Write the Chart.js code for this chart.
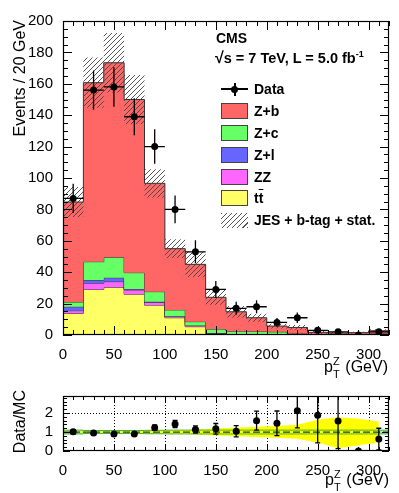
<!DOCTYPE html>
<html>
<head>
<meta charset="utf-8">
<script src="https://cdn.jsdelivr.net/npm/chart.js@4.4.1/dist/chart.umd.min.js"></script>
<style>
  body { margin: 0; background: #fff; }
  #wrap { position: relative; width: 399px; height: 493px; overflow: hidden; font-family: "Liberation Sans", Arial, sans-serif; color: #000; }
  canvas { position: absolute; left: 0; }
  .txt { position: absolute; white-space: nowrap; }
  .ytitle { position: absolute; width: 200px; height: 18px; text-align: right; font-size: 16px; line-height: 18px; transform: rotate(-90deg); transform-origin: 0 0; white-space: nowrap; }
  .xtitle { position: absolute; font-size: 16px; line-height: 18px; white-space: nowrap; }
  .ss { display: inline-block; position: relative; width: 8px; height: 1px; }
  .ss .sup { position: absolute; left: 0; bottom: 5px; font-size: 11px; line-height: 11px; }
  .ss .sub { position: absolute; left: 0; top: -2px; font-size: 11px; line-height: 11px; }
  .box { position: absolute; left: 221px; width: 25px; height: 14px; border: 1px solid #444; }
  .legtxt { position: absolute; left: 254px; font-weight: bold; font-size: 14px; line-height: 16px; white-space: nowrap; }
</style>
</head>
<body>
<div id="wrap">
  <canvas id="mainChart" style="top:0" width="399" height="385"></canvas>
  <canvas id="ratioChart" style="top:385px" width="399" height="108"></canvas>

  <div class="txt" style="left:216px; top:30px; font-weight:bold; font-size:14px; line-height:16px;">CMS</div>
  <div class="txt" style="left:215px; top:50px; font-weight:bold; font-size:14.5px; line-height:16px;"><span style="font-size:16px;">&radic;</span>s = 7 TeV, L = 5.0 fb<sup style="font-size:9px; line-height:0;">-1</sup></div>

  <!-- legend -->
  <div style="position:absolute; left:221px; top:88px; width:27px; height:1.5px; background:#000;"></div>
  <div style="position:absolute; left:234px; top:83px; width:1.5px; height:13px; background:#000;"></div>
  <div style="position:absolute; left:231px; top:85.5px; width:7px; height:7px; border-radius:50%; background:#000;"></div>
  <div class="legtxt" style="top:81px;">Data</div>

  <div class="box" style="top:103px; background:#ff6666;"></div>
  <div class="legtxt" style="top:103px;">Z+b</div>
  <div class="box" style="top:125px; background:#66ff66;"></div>
  <div class="legtxt" style="top:125px;">Z+c</div>
  <div class="box" style="top:147px; background:#6666ff;"></div>
  <div class="legtxt" style="top:147px;">Z+l</div>
  <div class="box" style="top:168.5px; background:#ff66ff;"></div>
  <div class="legtxt" style="top:168.5px;">ZZ</div>
  <div class="box" style="top:190px; background:#ffff66;"></div>
  <div class="legtxt" style="top:190px;">t<span style="text-decoration:overline;">t</span></div>
  <div style="position:absolute; left:221px; top:213px; width:27px; height:15px; background:repeating-linear-gradient(135deg, #555 0 1px, #fff 1px 3.6px);"></div>
  <div class="legtxt" style="top:212px;">JES + b-tag + stat.</div>

  <!-- axis titles -->
  <div class="ytitle" style="left:11px; top:220px;">Events / 20 GeV</div>
  <div class="ytitle" style="left:11px; top:590px;">Data/MC</div>
  <div class="xtitle" style="right:11px; top:358px;">p<span class="ss"><span class="sup">Z</span><span class="sub">T</span></span> (GeV)</div>
  <div class="xtitle" style="right:10px; top:471px;">p<span class="ss"><span class="sup">Z</span><span class="sub">T</span></span> (GeV)</div>
</div>

<script>
// binning in pT(Z), GeV
const binEdges = [0, 20, 40, 60, 80, 100, 120, 140, 160, 180, 200, 220, 240, 260, 280, 300, 320];
const binCentres = [10, 30, 50, 70, 90, 110, 130, 150, 170, 190, 210, 230, 250, 270, 290, 310];

// simulated components, events / 20 GeV
const ttbar = [13.8, 29.0, 30.4, 26.0, 19.0, 11.0, 5.3, 1.0, 0.5, 0.3, 0.2, 0.1, 0.0, 0.0, 0.0, 0.0];
const zz    = [1.7, 4.0, 3.6, 2.7, 1.8, 0.7, 0.6, 0.2, 0.1, 0.1, 0.1, 0.1, 0.1, 0.0, 0.0, 0.0];
const zl    = [2.5, 2.0, 2.5, 0.6, 0.4, 0.3, 0.2, 0.1, 0.1, 0.1, 0.05, 0.05, 0.05, 0.05, 0.05, 0.1];
const zc    = [3.0, 11.7, 13.0, 10.4, 6.4, 4.0, 2.4, 2.5, 1.7, 1.7, 1.65, 0.75, 0.35, 0.35, 0.25, 0.9];
const zb    = [63.7, 114.0, 123.9, 110.3, 69.0, 39.0, 36.5, 20.2, 12.4, 8.8, 3.7, 3.8, 1.2, 0.9, 1.2, 1.7];
const mcUnc = [9.5, 16, 19, 15.6, 9, 6, 8, 4.7, 3.7, 2.5, 1.5, 1.5, 1.2, 0.8, 0.6, 1.0];

// data
const dataCounts = [87, 156, 158, 139, 120, 80, 53, 29, 17, 18, 8, 11, 3, 2, 0, 2];
const dataErr    = [9.3, 12.5, 12.6, 11.8, 11.0, 8.9, 7.3, 5.4, 4.1, 4.2, 2.8, 3.3, 1.7, 1.4, 0, 1.4];

// ratio pad
const ratio    = [1.02, 0.95, 0.89, 0.90, 1.23, 1.43, 1.14, 1.17, 1.04, 1.60, 1.46, 2.12, 1.89, 1.58, 0, 0.63];
const ratioErr = [0.11, 0.07, 0.07, 0.08, 0.14, 0.19, 0.19, 0.28, 0.30, 0.50, 0.65, 0.90, 1.46, 1.46, 0, 0.57];
const bandX  = [0, 10, 30, 50, 70, 90, 110, 130, 150, 170, 190, 210, 230, 250, 270, 290, 310];
const bandHi = [1.04, 1.04, 1.04, 1.04, 1.05, 1.06, 1.09, 1.13, 1.18, 1.24, 1.28, 1.32, 1.38, 1.65, 1.78, 1.70, 1.55];
const bandLo = [0.96, 0.96, 0.96, 0.96, 0.95, 0.94, 0.91, 0.87, 0.82, 0.78, 0.74, 0.70, 0.65, 0.45, 0.15, 0.30, 0.45];
const statHalf = [0.10, 0.08, 0.08, 0.08, 0.09, 0.10, 0.10, 0.10, 0.10, 0.10, 0.10, 0.10, 0.10, 0.10, 0.10, 0.10];

// tick labels
const xTicks = [0, 50, 100, 150, 200, 250, 300];
const yTicks = [0, 20, 40, 60, 80, 100, 120, 140, 160, 180, 200];
const ratioTicks = [0, 1, 2];

const FONT = "'Liberation Sans', Arial, sans-serif";

// step points over the bin edges (last value repeated at the closing edge)
function stepPoints(values) {
  return binEdges.map((x, i) => ({ x: x, y: values[Math.min(i, values.length - 1)] }));
}

function hatchPattern() {
  const c = document.createElement('canvas');
  c.width = 5; c.height = 5;
  const g = c.getContext('2d');
  g.strokeStyle = '#444';
  g.lineWidth = 0.9;
  g.beginPath();
  g.moveTo(0, 5); g.lineTo(5, 0);
  g.moveTo(-1, 1); g.lineTo(1, -1);
  g.moveTo(4, 6); g.lineTo(6, 4);
  g.stroke();
  return g.createPattern(c, 'repeat');
}

// ROOT-like frame with inward ticks on all four sides (+ optional dotted grid)
function rootFrame(cfg) {
  return {
    id: 'rootFrame',
    beforeDatasetsDraw(chart) {
      if (!cfg.grid) return;
      const { ctx, chartArea: a, scales: { x, y } } = chart;
      ctx.save();
      ctx.strokeStyle = '#000';
      ctx.lineWidth = 1;
      ctx.setLineDash([1, 2]);
      ctx.beginPath();
      cfg.grid.x.forEach(v => {
        const px = Math.round(x.getPixelForValue(v)) + 0.5;
        ctx.moveTo(px, a.top); ctx.lineTo(px, a.bottom);
      });
      cfg.grid.y.forEach(v => {
        const py = Math.round(y.getPixelForValue(v)) + 0.5;
        ctx.moveTo(a.left, py); ctx.lineTo(a.right, py);
      });
      ctx.stroke();
      ctx.restore();
    },
    afterDraw(chart) {
      const { ctx, chartArea: a, scales: { x, y } } = chart;
      ctx.save();
      ctx.strokeStyle = '#000';
      ctx.lineWidth = 1;
      ctx.beginPath();
      for (let k = 0; x.min + k * cfg.xMinor <= x.max + 1e-9; k++) {
        const px = Math.round(x.getPixelForValue(x.min + k * cfg.xMinor)) + 0.5;
        const len = k % cfg.xEvery === 0 ? cfg.major : cfg.minor;
        ctx.moveTo(px, a.bottom); ctx.lineTo(px, a.bottom - len);
        ctx.moveTo(px, a.top); ctx.lineTo(px, a.top + len);
      }
      for (let k = 0; y.min + k * cfg.yMinor <= y.max + 1e-9; k++) {
        const py = Math.round(y.getPixelForValue(y.min + k * cfg.yMinor)) + 0.5;
        const len = k % cfg.yEvery === 0 ? cfg.major : cfg.minor;
        ctx.moveTo(a.left, py); ctx.lineTo(a.left + len, py);
        ctx.moveTo(a.right, py); ctx.lineTo(a.right - len, py);
      }
      ctx.stroke();
      ctx.lineWidth = 1.2;
      ctx.strokeRect(a.left + 0.5, a.top + 0.5, a.right - a.left - 1, a.bottom - a.top - 1);
      ctx.restore();
    }
  };
}

// error bars for a points dataset
function errorBars(dsIndex, errs, xHalf, cap) {
  return {
    id: 'errorBars',
    afterDatasetsDraw(chart) {
      const { ctx, chartArea: a, scales: { x, y } } = chart;
      const pts = chart.data.datasets[dsIndex].data;
      ctx.save();
      ctx.beginPath();
      ctx.rect(a.left, a.top, a.right - a.left, a.bottom - a.top);
      ctx.clip();
      ctx.strokeStyle = '#000';
      ctx.lineWidth = 1.3;
      ctx.beginPath();
      pts.forEach((p, k) => {
        const px = x.getPixelForValue(p.x);
        const py = y.getPixelForValue(p.y);
        if (xHalf) {
          ctx.moveTo(x.getPixelForValue(p.x - xHalf), py);
          ctx.lineTo(x.getPixelForValue(p.x + xHalf), py);
        }
        if (errs[k] > 0) {
          const top = y.getPixelForValue(p.y + errs[k]);
          const bot = y.getPixelForValue(p.y - errs[k]);
          ctx.moveTo(px, top); ctx.lineTo(px, bot);
          if (cap) {
            ctx.moveTo(px - cap, top); ctx.lineTo(px + cap, top);
            ctx.moveTo(px - cap, bot); ctx.lineTo(px + cap, bot);
          }
        }
      });
      ctx.stroke();
      ctx.restore();
    }
  };
}

function tickFont() {
  return { family: FONT, size: 15 };
}

// ---------- main pad ----------
const layers = [ttbar, zz, zl, zc, zb];
const colours = ['#ffff66', '#ff66ff', '#6666ff', '#66ff66', '#ff6666'];
let running = binCentres.map(() => 0);
const stackSets = layers.map((vals, i) => {
  running = running.map((r, k) => r + vals[k]);
  return {
    data: stepPoints(running),
    stepped: 'before',
    fill: i === 0 ? 'origin' : '-1',
    backgroundColor: colours[i],
    borderColor: '#333',
    borderWidth: 1,
    pointRadius: 0,
    order: 100 - i
  };
});
const total = running;

const mainDatasets = stackSets.concat([
  {
    data: stepPoints(total.map((t, k) => Math.max(0, t - mcUnc[k]))),
    stepped: 'before', fill: false, borderColor: 'rgba(0,0,0,0)', borderWidth: 1, pointRadius: 0, order: 90
  },
  {
    data: stepPoints(total.map((t, k) => t + mcUnc[k])),
    stepped: 'before', fill: '-1', backgroundColor: hatchPattern(), borderColor: 'rgba(0,0,0,0)', borderWidth: 1, pointRadius: 0, order: 89
  },
  {
    data: binCentres.map((x, k) => ({ x: x, y: dataCounts[k] })),
    showLine: false, pointRadius: 3.5, pointBackgroundColor: '#000', pointBorderWidth: 0, order: 0
  }
]);

new Chart(document.getElementById('mainChart').getContext('2d'), {
  type: 'line',
  data: { datasets: mainDatasets },
  options: {
    responsive: false,
    animation: false,
    events: [],
    layout: { padding: { top: 21, right: 10, left: 0, bottom: 0 } },
    plugins: { legend: { display: false }, tooltip: { enabled: false } },
    scales: {
      x: {
        type: 'linear', min: 0, max: 320,
        grid: { display: false }, border: { display: false },
        ticks: { font: tickFont(), color: '#000', padding: 3, maxRotation: 0, autoSkip: false },
        afterBuildTicks: s => { s.ticks = xTicks.map(v => ({ value: v })); },
        afterFit: s => { s.height = 50; }
      },
      y: {
        min: 0, max: 200,
        grid: { display: false }, border: { display: false },
        ticks: { font: tickFont(), color: '#000', padding: 2 },
        afterBuildTicks: s => { s.ticks = yTicks.map(v => ({ value: v })); },
        afterFit: s => { s.width = 63; }
      }
    }
  },
  plugins: [
    rootFrame({ xMinor: 10, xEvery: 5, yMinor: 5, yEvery: 4, major: 9, minor: 5 }),
    errorBars(mainDatasets.length - 1, dataErr, 10, 0)
  ]
});

// ---------- ratio pad ----------
const ratioDatasets = [
  { data: stepPoints(statHalf.map(h => 1 - h)), stepped: 'before', fill: false, borderColor: 'rgba(0,0,0,0)', borderWidth: 1, pointRadius: 0, order: 100 },
  { data: stepPoints(statHalf.map(h => 1 + h)), stepped: 'before', fill: '-1', backgroundColor: '#a8e6a0', borderColor: 'rgba(0,0,0,0)', borderWidth: 1, pointRadius: 0, order: 99 },
  { data: bandX.map((x, k) => ({ x: x, y: bandLo[k] })), fill: false, borderColor: 'rgba(0,0,0,0)', borderWidth: 1, pointRadius: 0, order: 98 },
  { data: bandX.map((x, k) => ({ x: x, y: bandHi[k] })), fill: '-1', backgroundColor: '#ffff00', borderColor: 'rgba(0,0,0,0)', borderWidth: 1, pointRadius: 0, order: 97 },
  { data: stepPoints(statHalf.map(h => 1 - h)), stepped: 'before', fill: false, borderColor: '#3cb43c', borderWidth: 1, pointRadius: 0, order: 96 },
  { data: stepPoints(statHalf.map(h => 1 + h)), stepped: 'before', fill: false, borderColor: '#3cb43c', borderWidth: 1, pointRadius: 0, order: 95 },
  { data: [{ x: binEdges[0], y: 1 }, { x: binEdges[binEdges.length - 1], y: 1 }], fill: false, borderColor: '#333', borderWidth: 1.3, borderDash: [7, 3], pointRadius: 0, order: 94 },
  { data: binCentres.map((x, k) => ({ x: x, y: ratio[k] })), showLine: false, pointRadius: 3.5, pointBackgroundColor: '#000', pointBorderWidth: 0, order: 0 }
];

new Chart(document.getElementById('ratioChart').getContext('2d'), {
  type: 'line',
  data: { datasets: ratioDatasets },
  options: {
    responsive: false,
    animation: false,
    events: [],
    layout: { padding: { top: 4, right: 10, left: 0, bottom: 0 } },
    plugins: { legend: { display: false }, tooltip: { enabled: false } },
    scales: {
      x: {
        type: 'linear', min: 0, max: 320,
        grid: { display: false }, border: { display: false },
        ticks: { font: tickFont(), color: '#000', padding: 3, maxRotation: 0, autoSkip: false },
        afterBuildTicks: s => { s.ticks = xTicks.map(v => ({ value: v })); },
        afterFit: s => { s.height = 42; }
      },
      y: {
        min: 0, max: 2.9,
        grid: { display: false }, border: { display: false },
        ticks: { font: tickFont(), color: '#000', padding: 2 },
        afterBuildTicks: s => { s.ticks = ratioTicks.map(v => ({ value: v })); },
        afterFit: s => { s.width = 63; }
      }
    }
  },
  plugins: [
    rootFrame({ xMinor: 10, xEvery: 5, yMinor: 0.2, yEvery: 5, major: 7, minor: 4,
                grid: { x: xTicks.slice(1), y: ratioTicks.slice(1) } }),
    errorBars(ratioDatasets.length - 1, ratioErr, 0, 2.5)
  ]
});
</script>
</body>
</html>
